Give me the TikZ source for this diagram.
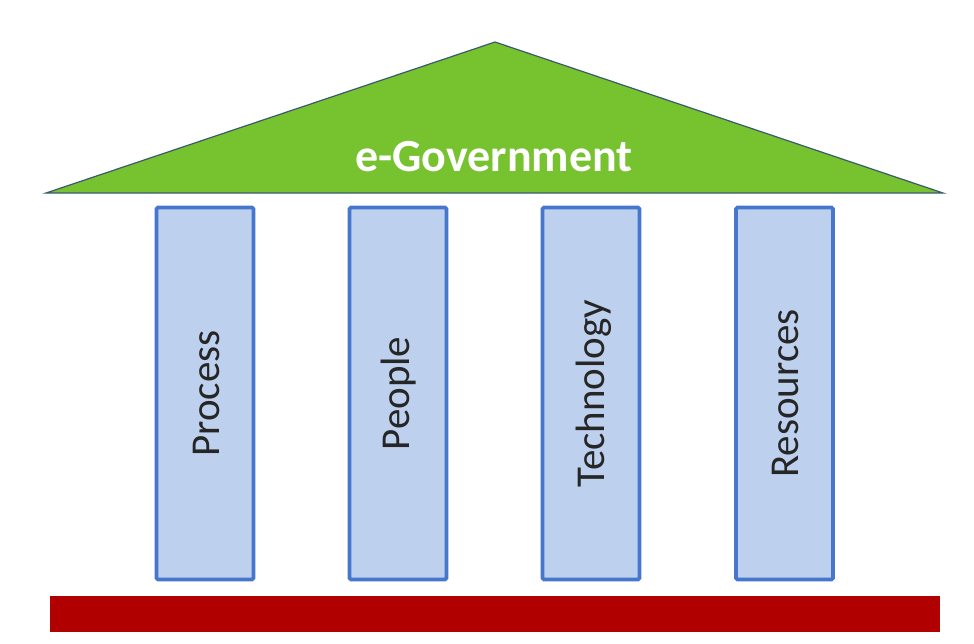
\documentclass[tikz,border=0pt]{standalone}
\usepackage{fontspec}
\setmainfont{Carlito}
\definecolor{roofgreen}{HTML}{76C22F}
\definecolor{roofedge}{HTML}{3B5A6E}
\definecolor{pillarfill}{HTML}{BDD0EE}
\definecolor{pillaredge}{HTML}{4677CC}
\definecolor{basered}{HTML}{B00000}
\begin{document}
\begin{tikzpicture}[x=1pt,y=-1pt,
  pillar/.style={draw=pillaredge, fill=pillarfill, line width=3.6pt, rounded corners=1.5pt, minimum width=97pt, minimum height=372pt, inner sep=0pt},
  plabel/.style={rotate=90, font=\fontsize{41}{41}\selectfont, text=black!85},
]
\useasboundingbox (0,0) rectangle (974,643);
\fill[white] (0,0) rectangle (974,643);
% roof
\coordinate (apex) at (495,42);
\coordinate (bl) at (46,193);
\coordinate (br) at (943,193);
\draw[fill=roofgreen, draw=roofedge, line width=1.2pt, line join=miter] (bl) -- (apex) -- (br) -- cycle;
\node[text=white, font=\bfseries\fontsize{46}{46}\selectfont] (title) at (494,157) {e-Government};
% pillars
\node[pillar] (p1) at (205,393.5) {};
\node[pillar] (p2) at (398,393.5) {};
\node[pillar] (p3) at (591,393.5) {};
\node[pillar] (p4) at (784.5,393.5) {};
\node[plabel] (l1) at ([xshift=1pt]p1) {Process};
\node[plabel] (l2) at ([xshift=1pt]p2) {People};
\node[plabel] (l3) at ([xshift=3pt]p3) {Technology};
\node[plabel] (l4) at ([xshift=1pt]p4) {Resources};
% base
\fill[basered] (50,596) rectangle (940,632);
\end{tikzpicture}
\end{document}
